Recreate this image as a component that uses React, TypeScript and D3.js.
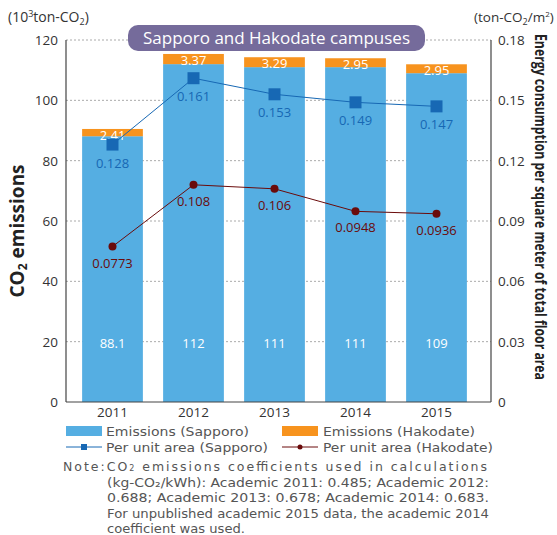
import React from 'react';
import * as d3 from 'd3';

// chart data
const years = ['2011', '2012', '2013', '2014', '2015'];
const sapporoEmissions = [88.1, 112, 111, 111, 109];
const hakodateEmissions = [2.41, 3.37, 3.29, 2.95, 2.95];
const sapporoPerArea = [0.128, 0.161, 0.153, 0.149, 0.147];
const hakodatePerArea = [0.0773, 0.108, 0.106, 0.0948, 0.0936];
const leftTicks = [0, 20, 40, 60, 80, 100, 120];
const rightTicks = [0, 0.03, 0.06, 0.09, 0.12, 0.15, 0.18];
const noteLines = [
  '(kg-CO\u2082/kWh): Academic 2011: 0.485; Academic 2012:',
  '0.688; Academic 2013: 0.678; Academic 2014: 0.683.',
  'For unpublished academic 2015 data, the academic 2014',
  'coefficient was used.',
];
// rendered widths of the note lines in the original
const noteWidths = [382, 382, 382, 138];

const BLUE_BAR = '#55aee2';
const ORANGE = '#f7931e';
const BLUE_LINE = '#1768b4';
const DARK_RED = '#6a0b0b';
const AXIS = '#444';

const chartFont = '"Open Sans", "Noto Sans", sans-serif';
const legendFont = '"DejaVu Sans", "Noto Sans", sans-serif';

const W = 557;
const H = 535;
const plot = { left: 66, right: 491, top: 40, bottom: 402 };

const App: React.FC = () => {
  const x = d3.scaleBand<string>()
    .domain(years)
    .range([72, 477])
    .paddingInner(0.25)
    .paddingOuter(0.125);
  const yL = d3.scaleLinear().domain([0, 120]).range([plot.bottom, plot.top]);
  const yR = d3.scaleLinear().domain([0, 0.18]).range([plot.bottom, plot.top]);
  const bw = x.bandwidth();
  const cx = (y: string) => (x(y) || 0) + bw / 2;

  const perAreaLine = d3.line<number>()
    .x((_, i) => cx(years[i]))
    .y(d => yR(d));

  return (
    <div style={{ position: 'absolute', left: 0, top: 0 }}>
      <svg width={W} height={H} style={{ display: 'block', background: '#fff' }}>
        {/* unit labels */}
        <text x={8} y={22} fontFamily={chartFont} fontSize={14} fill="#333">
          (10<tspan dy={-5} fontSize={9}>3</tspan><tspan dy={5}>ton-CO</tspan>
          <tspan dy={3} fontSize={9}>2</tspan><tspan dy={-3}>)</tspan>
        </text>
        <text x={474} y={22} fontFamily={chartFont} fontSize={13.5} fill="#333">
          (ton-CO<tspan dy={3} fontSize={9}>2</tspan><tspan dy={-3}>/m</tspan>
          <tspan dy={-5} fontSize={8}>2</tspan><tspan dy={5}>)</tspan>
        </text>

        {/* gridlines */}
        {leftTicks.filter(t => t > 0).map(t => (
          <line key={t} x1={plot.left} x2={plot.right} y1={yL(t)} y2={yL(t)}
            stroke="#aaa" strokeWidth={1} strokeDasharray="2,2" />
        ))}

        {/* bars */}
        {years.map((yr, i) => {
          const s = sapporoEmissions[i];
          const h = hakodateEmissions[i];
          return (
            <g key={yr}>
              <rect x={x(yr)} y={yL(s)} width={bw} height={yL(0) - yL(s)} fill={BLUE_BAR} />
              <rect x={x(yr)} y={yL(s + h)} width={bw} height={yL(s) - yL(s + h)} fill={ORANGE} />
              <text x={cx(yr)} y={yL(s + h) + 11} textAnchor="middle" fontFamily={chartFont}
                fontSize={13} fill="#fff">{h.toFixed(2)}</text>
              <text x={cx(yr)} y={yL(18)} textAnchor="middle" fontFamily={chartFont}
                fontSize={13} fill="#fff">{s}</text>
            </g>
          );
        })}

        {/* lines */}
        <path d={perAreaLine(sapporoPerArea) || ''} fill="none" stroke={BLUE_LINE} strokeWidth={1} />
        <path d={perAreaLine(hakodatePerArea) || ''} fill="none" stroke={DARK_RED} strokeWidth={1} />
        {years.map((yr, i) => (
          <g key={'m' + yr}>
            <rect x={cx(yr) - 6} y={yR(sapporoPerArea[i]) - 6} width={12} height={12} fill={BLUE_LINE} />
            <text x={cx(yr)} y={yR(sapporoPerArea[i]) + 23} textAnchor="middle" fontFamily={chartFont}
              fontSize={13} fill={BLUE_LINE}>{sapporoPerArea[i]}</text>
            <circle cx={cx(yr)} cy={yR(hakodatePerArea[i])} r={4} fill={DARK_RED} />
            <text x={cx(yr)} y={yR(hakodatePerArea[i]) + 21} textAnchor="middle" fontFamily={chartFont}
              fontSize={13} fill={DARK_RED}>{hakodatePerArea[i]}</text>
          </g>
        ))}

        {/* axes */}
        <line x1={plot.left} x2={plot.left} y1={plot.top} y2={plot.bottom} stroke={AXIS} strokeWidth={1.2} />
        <line x1={plot.right} x2={plot.right} y1={plot.top} y2={plot.bottom} stroke={AXIS} strokeWidth={1.2} />
        <line x1={plot.left} x2={plot.right} y1={plot.bottom} y2={plot.bottom} stroke={AXIS} strokeWidth={1.2} />
        {leftTicks.map(t => (
          <text key={'l' + t} x={58} y={yL(t) + 5} textAnchor="end" fontFamily={chartFont}
            fontSize={13.5} fill="#333">{t}</text>
        ))}
        {rightTicks.map(t => (
          <text key={'r' + t} x={498} y={yR(t) + 5} textAnchor="start" fontFamily={chartFont}
            fontSize={13.5} fill="#333">{t}</text>
        ))}
        {years.map(yr => (
          <text key={'x' + yr} x={cx(yr)} y={plot.bottom + 15} textAnchor="middle" fontFamily={chartFont}
            fontSize={13.5} fill="#333">{yr}</text>
        ))}

        {/* title box */}
        <rect x={128} y={25} width={297} height={26} rx={10} fill="#756b9b" />
        <text x={276.5} y={44} textAnchor="middle" fontFamily={chartFont} fontSize={17} fill="#fff">
          Sapporo and Hakodate campuses
        </text>

        {/* axis titles */}
        <text transform={`translate(24,${(plot.top + plot.bottom) / 2 + 10}) rotate(-90)`} textAnchor="middle"
          fontFamily={chartFont} fontSize={19} fontWeight={700} fill="#222">
          CO<tspan dy={3} fontSize={12}>2</tspan><tspan dy={-3}> emissions</tspan>
        </text>
        <text transform="translate(535,34) rotate(90)" textAnchor="start"
          fontFamily={chartFont} fontSize={16} fontWeight={700} fill="#222"
          textLength={346} lengthAdjust="spacingAndGlyphs">
          Energy consumption per square meter of total floor area
        </text>

        {/* legend */}
        <g fontFamily={legendFont} fontSize={12.5} fill="#555">
          <rect x={66} y={426} width={36} height={10} fill={BLUE_BAR} />
          <text x={106} y={436} textLength={143} lengthAdjust="spacingAndGlyphs">Emissions (Sapporo)</text>
          <rect x={282} y={426} width={36} height={10} fill={ORANGE} />
          <text x={323} y={436} textLength={152} lengthAdjust="spacingAndGlyphs">Emissions (Hakodate)</text>
          <line x1={66} x2={102} y1={447} y2={447} stroke={BLUE_LINE} strokeWidth={1} />
          <rect x={81} y={444} width={6} height={6} fill={BLUE_LINE} />
          <text x={106} y={452} textLength={162} lengthAdjust="spacingAndGlyphs">Per unit area (Sapporo)</text>
          <line x1={282} x2={318} y1={447} y2={447} stroke={DARK_RED} strokeWidth={1} />
          <circle cx={300} cy={447} r={2.5} fill={DARK_RED} />
          <text x={323} y={452} textLength={170} lengthAdjust="spacingAndGlyphs">Per unit area (Hakodate)</text>
          <text x={63} y={471} textLength={424} lengthAdjust="spacing">
            Note:CO<tspan fontSize={8}>2</tspan> emissions coefficients used in calculations
          </text>
          {noteLines.map((l, i) => (
            <text key={i} x={107} y={486.5 + i * 15.5} textLength={noteWidths[i]}
              lengthAdjust="spacingAndGlyphs">{l}</text>
          ))}
        </g>
      </svg>
    </div>
  );
};

export default App;
